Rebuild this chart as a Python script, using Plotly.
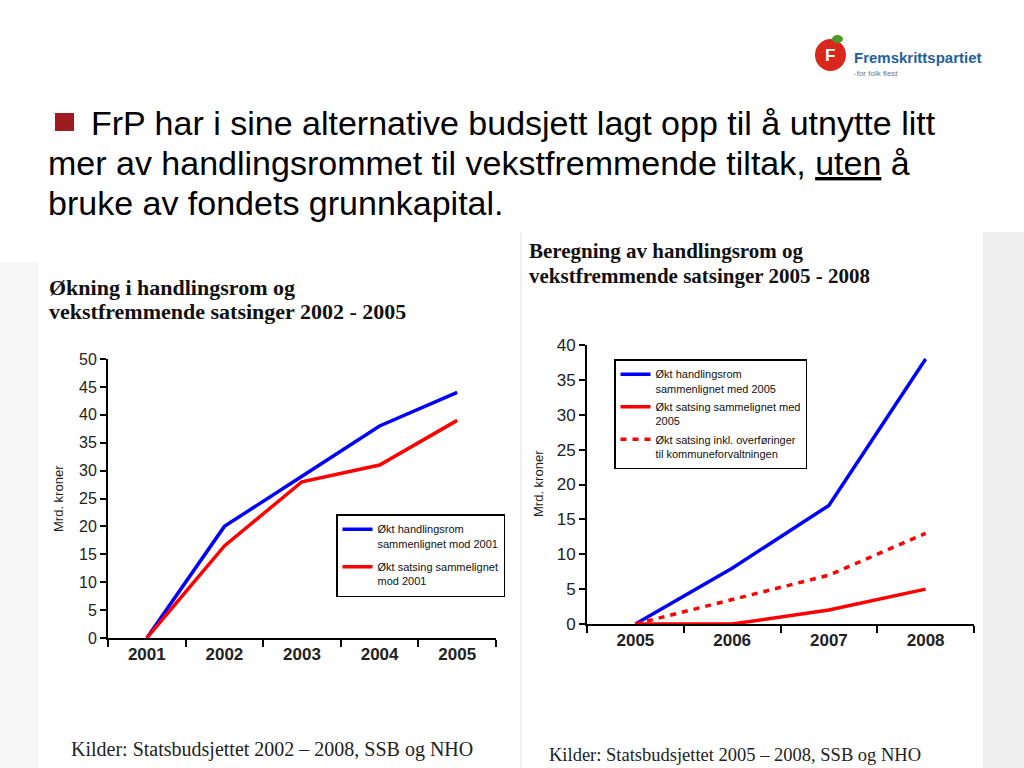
import plotly.graph_objects as go

# ---- data ----
years_left = ["2001", "2002", "2003", "2004", "2005"]
handling_left = [0, 20, 29, 38, 44]
satsing_left = [0, 16.5, 28, 31, 39]

years_right = ["2005", "2006", "2007", "2008"]
handling_right = [0, 8, 17, 38]
satsing_right = [0, 0, 2, 5]
satsing_inkl_right = [0, 3.5, 7, 13]

names_left = ["Økt handlingsrom<br>sammenlignet mod 2001",
              "Økt satsing sammelignet<br>mod 2001"]
names_right = ["Økt handlingsrom<br>sammenlignet med 2005",
               "Økt satsing sammelignet med<br>2005",
               "Økt satsing inkl. overføringer<br>til kommuneforvaltningen"]

W, H = 1024, 768
def px(x):
    return x / W
def py(y):
    return 1 - y / H

BLUE = "#0000ff"
RED = "#ff0000"
SANS = "Liberation Sans, Arial, sans-serif"
SERIF = "Liberation Serif, Times New Roman, serif"

fig = go.Figure()
fig.add_trace(go.Scatter(x=years_left, y=handling_left, mode="lines", name=names_left[0],
                         line=dict(color=BLUE, width=3.5), xaxis="x", yaxis="y",
                         legend="legend", legendgroup="a"))
fig.add_trace(go.Scatter(x=years_left, y=satsing_left, mode="lines", name=names_left[1],
                         line=dict(color=RED, width=3.5), xaxis="x", yaxis="y",
                         legend="legend", legendgroup="b"))
fig.add_trace(go.Scatter(x=years_right, y=handling_right, mode="lines", name=names_right[0],
                         line=dict(color=BLUE, width=3.5), xaxis="x2", yaxis="y2",
                         legend="legend2", legendgroup="c"))
fig.add_trace(go.Scatter(x=years_right, y=satsing_right, mode="lines", name=names_right[1],
                         line=dict(color=RED, width=3.5), xaxis="x2", yaxis="y2",
                         legend="legend2", legendgroup="d"))
fig.add_trace(go.Scatter(x=years_right, y=satsing_inkl_right, mode="lines", name=names_right[2],
                         line=dict(color=RED, width=3.5, dash="6px,6px"), xaxis="x2", yaxis="y2",
                         legend="legend2", legendgroup="e"))

axis_common = dict(showline=True, linecolor="black", linewidth=2, ticks="outside",
                   tickcolor="black", tickwidth=2, showgrid=False, zeroline=False,
                   fixedrange=True, automargin=False)

fig.update_layout(
    template="none",
    width=W, height=H, autosize=False,
    margin=dict(l=0, r=0, t=0, b=0, pad=0, autoexpand=False),
    paper_bgcolor="white", plot_bgcolor="rgba(0,0,0,0)",
    xaxis=dict(domain=[px(108), px(496)], anchor="y", type="category",
               tickson="boundaries", ticklen=7, range=[-0.5, 4.5],
               tickfont=dict(family=SANS, size=17, color="#222", weight="bold"),
               **axis_common),
    yaxis=dict(domain=[py(638), py(359)], anchor="x", range=[0, 50], dtick=5,
               ticklen=6, tickfont=dict(family=SANS, size=16, color="#222"),
               **axis_common),
    xaxis2=dict(domain=[px(587), px(974)], anchor="y2", type="category",
                tickson="boundaries", ticklen=7, range=[-0.5, 3.5],
                tickfont=dict(family=SANS, size=17, color="#222", weight="bold"),
                **axis_common),
    yaxis2=dict(domain=[py(624), py(345)], anchor="x2", range=[0, 40], dtick=5,
                ticklen=6, tickfont=dict(family=SANS, size=17, color="#222"),
                **axis_common),
    legend=dict(x=px(336), y=py(514), xanchor="left", yanchor="top",
                bgcolor="white", bordercolor="black", borderwidth=1.5,
                font=dict(family=SANS, size=11, color="#111"), valign="top",
                tracegroupgap=6, itemwidth=30),
    legend2=dict(x=px(614), y=py(359), xanchor="left", yanchor="top",
                 bgcolor="white", bordercolor="black", borderwidth=1.5,
                 font=dict(family=SANS, size=11, color="#111"), valign="top",
                 tracegroupgap=1, itemwidth=30),
    showlegend=True,
)

shapes = [
    # background strips
    dict(type="rect", xref="paper", yref="paper", x0=px(983), x1=1, y0=0, y1=py(232),
         fillcolor="#efefef", line=dict(width=0), layer="below"),
    dict(type="rect", xref="paper", yref="paper", x0=0, x1=px(38), y0=0, y1=py(262),
         fillcolor="#f7f7f7", line=dict(width=0), layer="below"),
    dict(type="line", xref="paper", yref="paper", x0=px(521), x1=px(521), y0=0, y1=py(232),
         line=dict(color="#e2e2e2", width=1), layer="below"),
    # bullet
    dict(type="rect", xref="paper", yref="paper", x0=px(55), x1=px(74), y0=py(131), y1=py(113),
         fillcolor="#9e1b22", line=dict(width=0)),
    # logo apple
    dict(type="circle", xref="paper", yref="paper", x0=px(815), x1=px(846), y0=py(71), y1=py(39),
         fillcolor="#d8281e", line=dict(width=0)),
    dict(type="circle", xref="paper", yref="paper", x0=px(832), x1=px(843), y0=py(43), y1=py(35),
         fillcolor="#4c9a2a", line=dict(width=0)),
]

annotations = [
    dict(text="FrP har i sine alternative budsjett lagt opp til å utnytte litt",
         x=px(89), y=py(123), xanchor="left", yanchor="middle",
         font=dict(family=SANS, size=34, color="black")),
    dict(text="mer av handlingsrommet til vekstfremmende tiltak, <u>uten</u> å",
         x=px(46), y=py(163), xanchor="left", yanchor="middle",
         font=dict(family=SANS, size=34, color="black")),
    dict(text="bruke av fondets grunnkapital.",
         x=px(46), y=py(203), xanchor="left", yanchor="middle",
         font=dict(family=SANS, size=34, color="black")),
    # logo text
    dict(text="<b>F</b>", x=px(830), y=py(56), xanchor="center", yanchor="middle",
         font=dict(family=SANS, size=17, color="white")),
    dict(text="<b>Fremskrittspartiet</b>", x=px(852), y=py(57), xanchor="left", yanchor="middle",
         font=dict(family=SANS, size=15, color="#1f5f9e")),
    dict(text="-for folk flest", x=px(852), y=py(73), xanchor="left", yanchor="middle",
         font=dict(family=SANS, size=8, color="#777")),
    # chart titles
    dict(text="<b>Økning i handlingsrom og</b>",
         x=px(47), y=py(287), xanchor="left", yanchor="middle",
         font=dict(family=SERIF, size=22, color="#111")),
    dict(text="<b>vekstfremmende satsinger 2002 - 2005</b>",
         x=px(47), y=py(311), xanchor="left", yanchor="middle",
         font=dict(family=SERIF, size=22, color="#111")),
    dict(text="<b>Beregning av handlingsrom og</b>",
         x=px(527), y=py(251), xanchor="left", yanchor="middle",
         font=dict(family=SERIF, size=21, color="#111")),
    dict(text="<b>vekstfremmende satsinger 2005 - 2008</b>",
         x=px(527), y=py(276), xanchor="left", yanchor="middle",
         font=dict(family=SERIF, size=21, color="#111")),
    # y titles
    dict(text="Mrd. kroner", x=px(58), y=py(499), textangle=-90, xanchor="center", yanchor="middle",
         font=dict(family=SANS, size=13, color="#222")),
    dict(text="Mrd. kroner", x=px(538), y=py(484), textangle=-90, xanchor="center", yanchor="middle",
         font=dict(family=SANS, size=13, color="#222")),
    # sources
    dict(text="Kilder: Statsbudsjettet 2002 – 2008, SSB og NHO", x=px(69), y=py(749),
         xanchor="left", yanchor="middle", font=dict(family=SERIF, size=20, color="#222")),
    dict(text="Kilder: Statsbudsjettet 2005 – 2008, SSB og NHO", x=px(547), y=py(755),
         xanchor="left", yanchor="middle", font=dict(family=SERIF, size=18.5, color="#222")),
]
for a in annotations:
    a.setdefault("xref", "paper")
    a.setdefault("yref", "paper")
    a.setdefault("showarrow", False)

fig.update_layout(shapes=shapes, annotations=annotations)
fig.write_html("out.html", config={"displayModeBar": False},
               post_script="document.body.style.margin='0';document.body.style.overflow='hidden';")
